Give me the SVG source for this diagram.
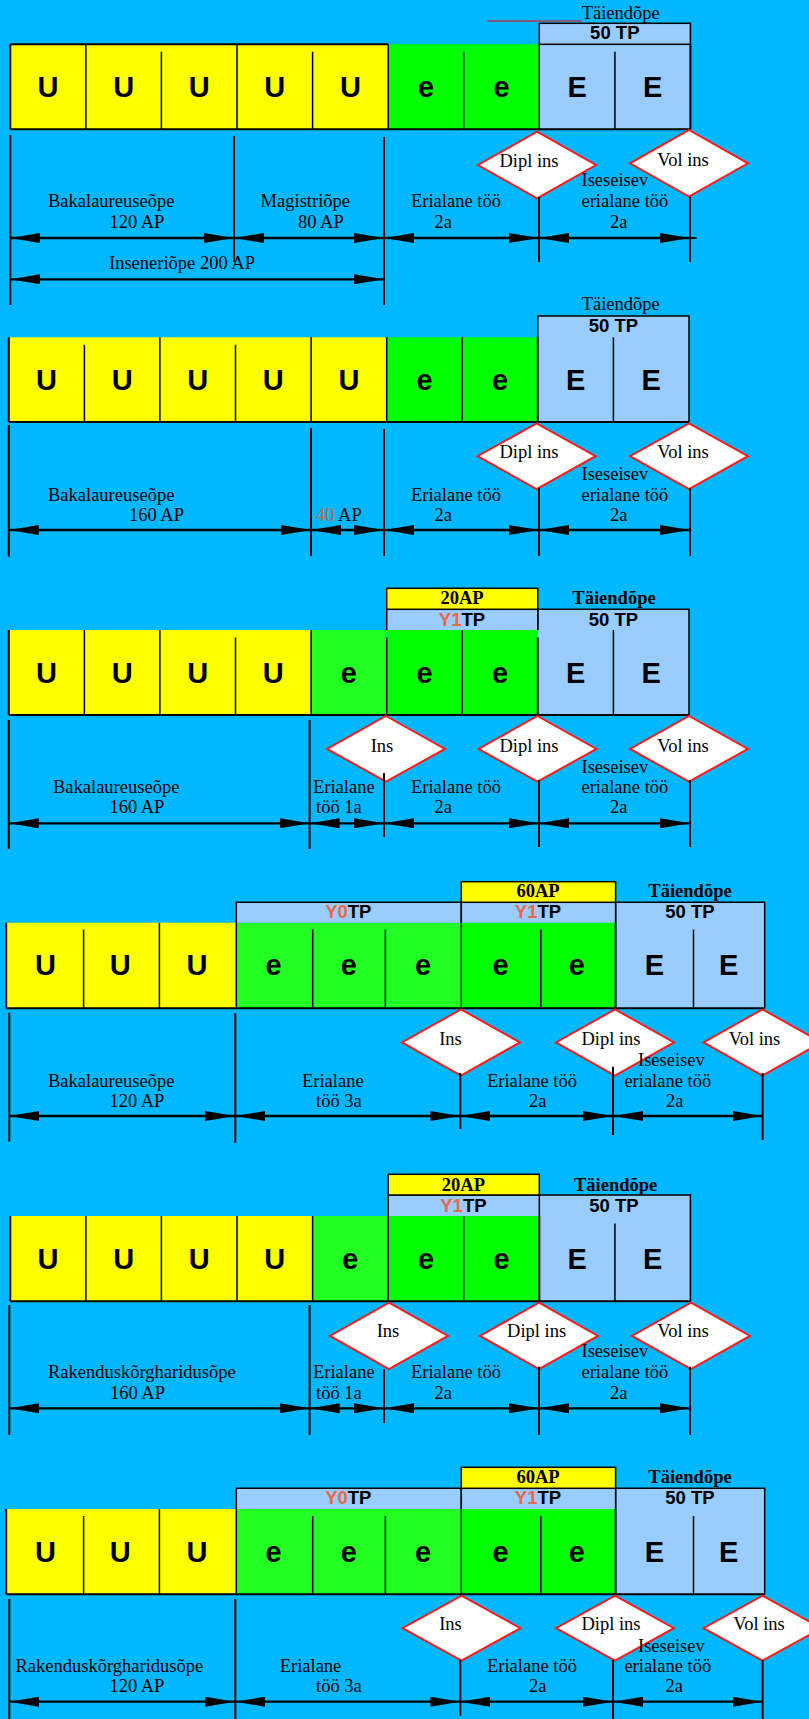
<svg xmlns="http://www.w3.org/2000/svg" width="809" height="1719" viewBox="0 0 809 1719">
<defs>
<style>
.cy{fill:#FFFF00}.cg{fill:#00FF00}.cl{fill:#22FF22}.cb{fill:#99CCFF}
.let{font-family:"Liberation Sans",Arial,sans-serif;font-weight:bold;font-size:29px;text-anchor:middle;fill:#000}
.lbl{font-family:"Liberation Serif","Times New Roman",serif;font-size:18.5px;fill:#000}
.tie{font-family:"Liberation Serif","Times New Roman",serif;font-size:18.5px;fill:#000;text-anchor:middle}
.tieb{font-family:"Liberation Serif","Times New Roman",serif;font-size:18.5px;font-weight:bold;fill:#000;text-anchor:middle}
.tp{font-family:"Liberation Sans",Arial,sans-serif;font-weight:bold;font-size:18.5px;text-anchor:middle;fill:#000}
.red{fill:#E8684A}
.dv{stroke:#000;stroke-width:1.5;fill:none}
.bd{stroke:#000;stroke-width:2;fill:none}
.box{stroke:#000;stroke-width:1.5}
.dia{fill:#FFFFFF;stroke:#FF1A1A;stroke-width:2}
.dt{font-family:"Liberation Serif","Times New Roman",serif;font-size:18.5px;text-anchor:middle;fill:#000}
.vl{stroke:#000;stroke-width:2}
.arr{stroke:#000;stroke-width:2.3;marker-start:url(#ah);marker-end:url(#ah)}
</style>
<marker id="ah" viewBox="0 0 30 10" refX="30" refY="5" markerWidth="30" markerHeight="10" markerUnits="userSpaceOnUse" orient="auto-start-reverse"><path d="M0,0 L30,5 L0,10 Z" fill="#000"/></marker>
</defs>
<rect x="0" y="0" width="809" height="1719" fill="#00B8FF"/>

<!-- ================= SECTION 1 ================= -->
<g id="s1">
<g id="s1-bar">
<rect class="cy" x="10.3" y="44.3" width="377.9" height="85"/>
<rect class="cg" x="388.2" y="44.3" width="151.1" height="85"/>
<rect class="cb" x="539.3" y="44.3" width="151.1" height="85"/>
<path class="dv" d="M85.9,44.3V129.3M161.4,51.7V129.3M237,44.3V129.3M312.6,51.7V129.3M388.2,44.3V129.3M463.7,51.7V129.3M539.3,44.3V129.3M614.9,51.7V129.3"/>
<path class="bd" d="M10.3,44.3H388.2M10.3,44.3V129.3M10.3,129.3H690.4M690.4,44.3V129.3"/>
<g class="let">
<text x="48.1" y="96.8">U</text><text x="123.7" y="96.8">U</text><text x="199.2" y="96.8">U</text><text x="274.8" y="96.8">U</text><text x="350.4" y="96.8">U</text>
<text x="426" y="96.8">e</text><text x="501.5" y="96.8">e</text>
<text x="577.1" y="96.8">E</text><text x="652.7" y="96.8">E</text>
</g>
</g>
<g id="s1-tp">
<rect class="cb box" x="539.3" y="23.3" width="151.1" height="21"/>
<text class="tp" x="614.8" y="39.3">50 TP</text>
<line x1="487.3" y1="21" x2="581.7" y2="21" stroke="#FF0000" stroke-width="1"/>
<text class="lbl" x="581.7" y="18.7">Täiendõpe</text>
</g>
<g id="s1-dipl"><polygon class="dia" points="537,131.7 596,165 537,198.3 478,165"/><text class="dt" x="529" y="166.7">Dipl ins</text></g>
<g id="s1-vol"><polygon class="dia" points="689,130 748,163.3 689,196.7 630,163.3"/><text class="dt" x="683" y="166">Vol ins</text></g>
</g>

<!-- ================= SECTION 2 ================= -->
<g id="s2">
<g id="s2-bar">
<rect class="cy" x="8.8" y="337.3" width="377.9" height="84.7"/>
<rect class="cg" x="386.7" y="337.3" width="151.1" height="84.7"/>
<rect class="cb" x="537.8" y="316" width="151.2" height="106"/>
<path class="dv" d="M84.4,344.7V422M159.9,337.3V422M235.5,344.7V422M311.1,337.3V422M386.7,337.3V422M462.2,337.3V422M613.4,337.3V422"/>
<path class="bd" d="M8.8,337.3V422M8.8,422H689M537.8,337.3V422"/>
<path class="box" fill="none" d="M537.8,337.3V316H689V422"/>
<g class="let">
<text x="46.6" y="389.8">U</text><text x="122.2" y="389.8">U</text><text x="197.7" y="389.8">U</text><text x="273.3" y="389.8">U</text><text x="348.9" y="389.8">U</text>
<text x="424.5" y="389.8">e</text><text x="500" y="389.8">e</text>
<text x="575.6" y="389.8">E</text><text x="651.2" y="389.8">E</text>
</g>
</g>
<g id="s2-tp">
<text class="tp" x="613.5" y="331.7">50 TP</text>
<text class="tie" x="620.7" y="310">Täiendõpe</text>
</g>
<g id="s2-dipl"><polygon class="dia" points="536.6,423.3 595.6,456.2 536.6,489 477.6,456.2"/><text class="dt" x="529" y="458">Dipl ins</text></g>
<g id="s2-vol"><polygon class="dia" points="689,423.3 748,456.2 689,489 630,456.2"/><text class="dt" x="683" y="458">Vol ins</text></g>
</g>

<!-- ================= SECTION 3 ================= -->
<g id="s3">
<g id="s3-bar">
<rect class="cy" x="8.8" y="630" width="302.3" height="85"/>
<rect class="cl" x="311.1" y="630" width="75.6" height="85"/>
<rect class="cg" x="386.7" y="630" width="151.1" height="85"/>
<rect class="cb" x="537.8" y="609.3" width="151.2" height="105.7"/>
<path class="dv" d="M84.4,630V715M159.9,630V715M235.5,637.4V715M311.1,630V715M386.7,637.4V715M462.2,630V715M613.4,630V715"/>
<path class="bd" d="M8.8,630V715M8.8,715H689M537.8,637.4V715"/>
<path class="box" fill="none" d="M537.8,630V609.3H689V715"/>
<g class="let">
<text x="46.6" y="682.5">U</text><text x="122.2" y="682.5">U</text><text x="197.7" y="682.5">U</text><text x="273.3" y="682.5">U</text>
<text x="348.9" y="682.5">e</text><text x="424.5" y="682.5">e</text><text x="500" y="682.5">e</text>
<text x="575.6" y="682.5">E</text><text x="651.2" y="682.5">E</text>
</g>
</g>
<g id="s3-y1">
<rect class="cb" x="386.7" y="609.3" width="151.1" height="20.7"/>
<path class="box" fill="none" d="M386.7,630V609.3H537.8V630"/>
<text class="tp" x="462" y="625.7"><tspan class="red">Y1</tspan>TP</text>
</g>
<g id="s3-20ap">
<rect class="cy box" x="386.7" y="588.3" width="151.1" height="21"/>
<text class="tieb" x="462" y="604.3">20AP</text>
</g>
<g id="s3-tp">
<text class="tp" x="613.5" y="625.7">50 TP</text>
<text class="tieb" x="614" y="604.3">Täiendõpe</text>
</g>
<g id="s3-ins"><polygon class="dia" points="386,716 445,748.9 386,781.7 327,748.9"/><text class="dt" x="382" y="751.7">Ins</text></g>
<g id="s3-dipl"><polygon class="dia" points="537.5,716 596.5,748.9 537.5,781.7 478.5,748.9"/><text class="dt" x="529" y="751.7">Dipl ins</text></g>
<g id="s3-vol"><polygon class="dia" points="689,716 748,748.9 689,781.7 630,748.9"/><text class="dt" x="683" y="751.7">Vol ins</text></g>
</g>

<!-- ================= SECTION 4 ================= -->
<g id="s4">
<g id="s4-bar">
<rect class="cy" x="6.2" y="922.7" width="230.1" height="85.6"/>
<rect class="cl" x="236.3" y="922.7" width="225" height="85.6"/>
<rect class="cg" x="461.3" y="922.7" width="154.3" height="85.6"/>
<rect class="cb" x="615.6" y="902.3" width="149.1" height="106"/>
<path class="dv" d="M83.6,929.5V1008.3M159.4,922.7V1008.3M236.3,922.7V1008.3M312.7,929.5V1008.3M385.4,929.5V1008.3M461.3,922.7V1008.3M540.8,929.5V1008.3M693.5,929.5V1008.3"/>
<path class="bd" d="M6.2,922.7V1008.3M6.2,1008.3H764.7M615.6,922.7V1008.3"/>
<path class="box" fill="none" d="M615.6,922.7V902.3H764.7V1008.3"/>
<g class="let">
<text x="45.4" y="975">U</text><text x="120.2" y="975">U</text><text x="197.1" y="975">U</text>
<text x="273.5" y="975">e</text><text x="348.8" y="975">e</text><text x="423.1" y="975">e</text><text x="500.5" y="975">e</text><text x="576.9" y="975">e</text>
<text x="654.3" y="975">E</text><text x="728.6" y="975">E</text>
</g>
</g>
<g id="s4-y0">
<rect class="cb" x="236.3" y="902.3" width="225" height="20.4"/>
<path class="box" fill="none" d="M236.3,922.7V902.3H461.3V922.7"/>
<text class="tp" x="348.3" y="918.3"><tspan class="red">Y0</tspan>TP</text>
</g>
<g id="s4-y1">
<rect class="cb" x="461.3" y="902.3" width="154.3" height="20.4"/>
<path class="box" fill="none" d="M461.3,922.7V902.3H615.6V922.7"/>
<text class="tp" x="538" y="918.3"><tspan class="red">Y1</tspan>TP</text>
</g>
<g id="s4-60ap">
<rect class="cy box" x="461.3" y="881.7" width="154.3" height="20.6"/>
<text class="tieb" x="538" y="897.3">60AP</text>
</g>
<g id="s4-tp">
<text class="tp" x="690" y="918.3">50 TP</text>
<text class="tieb" x="690" y="897.3">Täiendõpe</text>
</g>
<g id="s4-ins"><polygon class="dia" points="461,1009.3 520,1042.4 461,1075.5 402,1042.4"/><text class="dt" x="450.5" y="1045">Ins</text></g>
<g id="s4-dipl"><polygon class="dia" points="615,1009.3 674,1042.4 615,1075.5 556,1042.4"/><text class="dt" x="611" y="1045">Dipl ins</text></g>
<g id="s4-vol"><polygon class="dia" points="762.5,1009.3 821.5,1042.4 762.5,1075.5 703.5,1042.4"/><text class="dt" x="754.5" y="1045">Vol ins</text></g>
</g>

<!-- ================= SECTION 5 ================= -->
<g id="s5">
<g id="s5-bar">
<rect class="cy" x="10.3" y="1216" width="302.3" height="85.3"/>
<rect class="cl" x="312.6" y="1216" width="75.6" height="85.3"/>
<rect class="cg" x="388.2" y="1216" width="151.1" height="85.3"/>
<rect class="cb" x="539.3" y="1195" width="151.1" height="106.3"/>
<path class="dv" d="M85.9,1216V1301.3M161.4,1216V1301.3M237,1216V1301.3M312.6,1216V1301.3M388.2,1216V1301.3M463.7,1216V1301.3M614.9,1223.4V1301.3"/>
<path class="bd" d="M10.3,1216V1301.3M10.3,1301.3H690.4M539.3,1216V1301.3"/>
<path class="box" fill="none" d="M539.3,1216V1195H690.4V1301.3"/>
<g class="let">
<text x="48.1" y="1268.5">U</text><text x="123.7" y="1268.5">U</text><text x="199.2" y="1268.5">U</text><text x="274.8" y="1268.5">U</text>
<text x="350.4" y="1268.5">e</text><text x="426" y="1268.5">e</text><text x="501.5" y="1268.5">e</text>
<text x="577.1" y="1268.5">E</text><text x="652.7" y="1268.5">E</text>
</g>
</g>
<g id="s5-y1">
<rect class="cb" x="388.2" y="1195" width="151.1" height="21"/>
<path class="box" fill="none" d="M388.2,1216V1195H539.3V1216"/>
<text class="tp" x="463.4" y="1211.7"><tspan class="red">Y1</tspan>TP</text>
</g>
<g id="s5-20ap">
<rect class="cy box" x="388.2" y="1174.3" width="151.1" height="20.7"/>
<text class="tieb" x="463.4" y="1190.7">20AP</text>
</g>
<g id="s5-tp">
<text class="tp" x="614" y="1211.7">50 TP</text>
<text class="tieb" x="615.6" y="1190.7">Täiendõpe</text>
</g>
<g id="s5-ins"><polygon class="dia" points="389,1302.7 448,1335.9 389,1369 330,1335.9"/><text class="dt" x="388" y="1337.3">Ins</text></g>
<g id="s5-dipl"><polygon class="dia" points="539,1302.7 598,1335.9 539,1369 480,1335.9"/><text class="dt" x="536.6" y="1337.3">Dipl ins</text></g>
<g id="s5-vol"><polygon class="dia" points="691,1302.7 750,1335.9 691,1369 632,1335.9"/><text class="dt" x="683" y="1337.3">Vol ins</text></g>
</g>

<!-- ================= SECTION 6 ================= -->
<g id="s6">
<g id="s6-bar">
<rect class="cy" x="6.2" y="1509" width="230.1" height="85.3"/>
<rect class="cl" x="236.3" y="1509" width="225" height="85.3"/>
<rect class="cg" x="461.3" y="1509" width="154.3" height="85.3"/>
<rect class="cb" x="615.6" y="1488.3" width="149.1" height="106"/>
<path class="dv" d="M83.6,1516V1594.3M159.4,1509V1594.3M236.3,1509V1594.3M312.7,1516V1594.3M385.4,1516V1594.3M461.3,1509V1594.3M540.8,1516V1594.3M693.5,1516V1594.3"/>
<path class="bd" d="M6.2,1509V1594.3M6.2,1594.3H764.7M615.6,1509V1594.3"/>
<path class="box" fill="none" d="M615.6,1509V1488.3H764.7V1594.3"/>
<g class="let">
<text x="45.4" y="1561.5">U</text><text x="120.2" y="1561.5">U</text><text x="197.1" y="1561.5">U</text>
<text x="273.5" y="1561.5">e</text><text x="348.8" y="1561.5">e</text><text x="423.1" y="1561.5">e</text><text x="500.5" y="1561.5">e</text><text x="576.9" y="1561.5">e</text>
<text x="654.3" y="1561.5">E</text><text x="728.6" y="1561.5">E</text>
</g>
</g>
<g id="s6-y0">
<rect class="cb" x="236.3" y="1488.3" width="225" height="20.7"/>
<path class="box" fill="none" d="M236.3,1509V1488.3H461.3V1509"/>
<text class="tp" x="348.3" y="1504"><tspan class="red">Y0</tspan>TP</text>
</g>
<g id="s6-y1">
<rect class="cb" x="461.3" y="1488.3" width="154.3" height="20.7"/>
<path class="box" fill="none" d="M461.3,1509V1488.3H615.6V1509"/>
<text class="tp" x="538" y="1504"><tspan class="red">Y1</tspan>TP</text>
</g>
<g id="s6-60ap">
<rect class="cy box" x="461.3" y="1467.3" width="154.3" height="21"/>
<text class="tieb" x="538" y="1483.3">60AP</text>
</g>
<g id="s6-tp">
<text class="tp" x="690" y="1504">50 TP</text>
<text class="tieb" x="690" y="1483.3">Täiendõpe</text>
</g>
<g id="s6-ins"><polygon class="dia" points="461.5,1595.7 520.5,1628.2 461.5,1660.7 402.5,1628.2"/><text class="dt" x="450.5" y="1630">Ins</text></g>
<g id="s6-dipl"><polygon class="dia" points="615,1595.7 674,1628.2 615,1660.7 556,1628.2"/><text class="dt" x="611" y="1630">Dipl ins</text></g>
<g id="s6-vol"><polygon class="dia" points="762.5,1595.7 821.5,1628.2 762.5,1660.7 703.5,1628.2"/><text class="dt" x="759" y="1630">Vol ins</text></g>
</g>

<!-- ================= CONNECTORS ================= -->
<g id="connectors">
<!-- s1 -->
<line class="vl" x1="10.3" y1="135" x2="10.3" y2="305"/>
<line class="vl" x1="234" y1="136" x2="234" y2="262"/>
<line class="vl" x1="384" y1="137" x2="384" y2="305"/>
<line class="vl" x1="539" y1="197" x2="539" y2="262"/>
<line class="vl" x1="690" y1="197" x2="690" y2="262"/>
<line class="arr" x1="10.3" y1="238" x2="234" y2="238"/>
<line class="arr" x1="234" y1="238" x2="384" y2="238"/>
<line class="arr" x1="384" y1="238" x2="539" y2="238"/>
<line class="arr" x1="539" y1="238" x2="690" y2="238"/>
<line class="vl" x1="690" y1="238" x2="696.6" y2="238" stroke-width="2.3"/>
<line class="arr" x1="10.3" y1="279.3" x2="384" y2="279.3"/>
<!-- s2 -->
<line class="vl" x1="8.8" y1="425" x2="8.8" y2="556.7"/>
<line class="vl" x1="311" y1="428" x2="311" y2="556"/>
<line class="vl" x1="384" y1="429" x2="384" y2="556"/>
<line class="vl" x1="539" y1="488" x2="539" y2="556"/>
<line class="vl" x1="690" y1="488" x2="690" y2="556"/>
<line class="arr" x1="8.8" y1="530" x2="311" y2="530"/>
<line class="arr" x1="311" y1="530" x2="384" y2="530"/>
<line class="arr" x1="384" y1="530" x2="539" y2="530"/>
<line class="arr" x1="539" y1="530" x2="690" y2="530"/>
<!-- s3 -->
<line class="vl" x1="8.8" y1="720" x2="8.8" y2="849"/>
<line class="vl" x1="309.6" y1="720" x2="309.6" y2="849"/>
<line class="vl" x1="384" y1="773" x2="384" y2="837"/>
<line class="vl" x1="539" y1="780" x2="539" y2="847"/>
<line class="vl" x1="690" y1="780" x2="690" y2="847"/>
<line class="arr" x1="8.8" y1="823.3" x2="309.6" y2="823.3"/>
<line class="arr" x1="309.6" y1="823.3" x2="384" y2="823.3"/>
<line class="arr" x1="384" y1="823.3" x2="539" y2="823.3"/>
<line class="arr" x1="539" y1="823.3" x2="690" y2="823.3"/>
<!-- s4 -->
<line class="vl" x1="9.3" y1="1012.7" x2="9.3" y2="1141.7"/>
<line class="vl" x1="235.3" y1="1013" x2="235.3" y2="1142.7"/>
<line class="vl" x1="460.3" y1="1073" x2="460.3" y2="1129"/>
<line class="vl" x1="613" y1="1066.7" x2="613" y2="1135"/>
<line class="vl" x1="762.6" y1="1073" x2="762.6" y2="1140"/>
<line class="arr" x1="9.3" y1="1116" x2="235.3" y2="1116"/>
<line class="arr" x1="235.3" y1="1116" x2="460.3" y2="1116"/>
<line class="arr" x1="460.3" y1="1116" x2="613" y2="1116"/>
<line class="arr" x1="613" y1="1116" x2="762.6" y2="1116"/>
<!-- s5 -->
<line class="vl" x1="9.3" y1="1305" x2="9.3" y2="1435"/>
<line class="vl" x1="309.6" y1="1305" x2="309.6" y2="1435"/>
<line class="vl" x1="384" y1="1369" x2="384" y2="1423"/>
<line class="vl" x1="539" y1="1366.7" x2="539" y2="1435"/>
<line class="vl" x1="690" y1="1366.7" x2="690" y2="1435"/>
<line class="arr" x1="9.3" y1="1408.3" x2="309.6" y2="1408.3"/>
<line class="arr" x1="309.6" y1="1408.3" x2="384" y2="1408.3"/>
<line class="arr" x1="384" y1="1408.3" x2="539" y2="1408.3"/>
<line class="arr" x1="539" y1="1408.3" x2="690" y2="1408.3"/>
<!-- s6 -->
<line class="vl" x1="9.3" y1="1599" x2="9.3" y2="1719"/>
<line class="vl" x1="235.3" y1="1599" x2="235.3" y2="1719"/>
<line class="vl" x1="460.3" y1="1660" x2="460.3" y2="1716"/>
<line class="vl" x1="613" y1="1660" x2="613" y2="1719"/>
<line class="vl" x1="762.6" y1="1660" x2="762.6" y2="1719"/>
<line class="arr" x1="9.3" y1="1701.7" x2="235.3" y2="1701.7"/>
<line class="arr" x1="235.3" y1="1701.7" x2="460.3" y2="1701.7"/>
<line class="arr" x1="460.3" y1="1701.7" x2="613" y2="1701.7"/>
<line class="arr" x1="613" y1="1701.7" x2="762.6" y2="1701.7"/>
</g>

<!-- ================= LABELS ================= -->
<g id="labels" class="lbl">
<!-- s1 -->
<text class="lbl" x="48" y="207">Bakalaureuseõpe</text>
<text class="lbl" x="109.4" y="228">120 AP</text>
<text class="lbl" x="260.6" y="207">Magistriõpe</text>
<text class="lbl" x="298" y="228">80 AP</text>
<text class="lbl" x="411" y="207">Erialane töö</text>
<text class="lbl" x="434.5" y="228">2a</text>
<text class="lbl" x="581.5" y="186">Iseseisev</text>
<text class="lbl" x="581.5" y="207">erialane töö</text>
<text class="lbl" x="610" y="228">2a</text>
<text class="lbl" x="109" y="269">Inseneriõpe 200 AP</text>
<!-- s2 -->
<text class="lbl" x="48" y="500.7">Bakalaureuseõpe</text>
<text class="lbl" x="129" y="520.7">160 AP</text>
<text class="lbl" x="316" y="520.7"><tspan fill="#C8644B">40</tspan> AP</text>
<text class="lbl" x="411" y="500.7">Erialane töö</text>
<text class="lbl" x="434.5" y="520.7">2a</text>
<text class="lbl" x="581.5" y="480">Iseseisev</text>
<text class="lbl" x="581.5" y="500.7">erialane töö</text>
<text class="lbl" x="610" y="520.7">2a</text>
<!-- s3 -->
<text class="lbl" x="53" y="793.3">Bakalaureuseõpe</text>
<text class="lbl" x="109.4" y="813.3">160 AP</text>
<text class="lbl" x="313" y="793.3">Erialane</text>
<text class="lbl" x="316" y="813.3">töö 1a</text>
<text class="lbl" x="411" y="793.3">Erialane töö</text>
<text class="lbl" x="434.5" y="813.3">2a</text>
<text class="lbl" x="581.5" y="772.7">Iseseisev</text>
<text class="lbl" x="581.5" y="793.3">erialane töö</text>
<text class="lbl" x="610" y="813.3">2a</text>
<!-- s4 -->
<text class="lbl" x="48" y="1086.7">Bakalaureuseõpe</text>
<text class="lbl" x="109.4" y="1106.7">120 AP</text>
<text class="lbl" x="302" y="1086.7">Erialane</text>
<text class="lbl" x="316" y="1106.7">töö 3a</text>
<text class="lbl" x="487" y="1086.7">Erialane töö</text>
<text class="lbl" x="529" y="1106.7">2a</text>
<text class="lbl" x="638" y="1066">Iseseisev</text>
<text class="lbl" x="624.4" y="1086.5">erialane töö</text>
<text class="lbl" x="666" y="1106.5">2a</text>
<!-- s5 -->
<text class="lbl" x="48" y="1378.3">Rakenduskõrgharidusõpe</text>
<text class="lbl" x="110" y="1399">160 AP</text>
<text class="lbl" x="313" y="1378.3">Erialane</text>
<text class="lbl" x="316" y="1399">töö 1a</text>
<text class="lbl" x="411" y="1378.3">Erialane töö</text>
<text class="lbl" x="434.5" y="1399">2a</text>
<text class="lbl" x="581.5" y="1356.7">Iseseisev</text>
<text class="lbl" x="581.5" y="1378.3">erialane töö</text>
<text class="lbl" x="610" y="1399">2a</text>
<!-- s6 -->
<text class="lbl" x="15.5" y="1671.7">Rakenduskõrgharidusõpe</text>
<text class="lbl" x="109.4" y="1692.3">120 AP</text>
<text class="lbl" x="279.7" y="1671.7">Erialane</text>
<text class="lbl" x="316" y="1692.3">töö 3a</text>
<text class="lbl" x="487" y="1671.7">Erialane töö</text>
<text class="lbl" x="529" y="1692.3">2a</text>
<text class="lbl" x="638" y="1651.7">Iseseisev</text>
<text class="lbl" x="624.4" y="1671.7">erialane töö</text>
<text class="lbl" x="665.6" y="1692.3">2a</text>
</g>
</svg>
